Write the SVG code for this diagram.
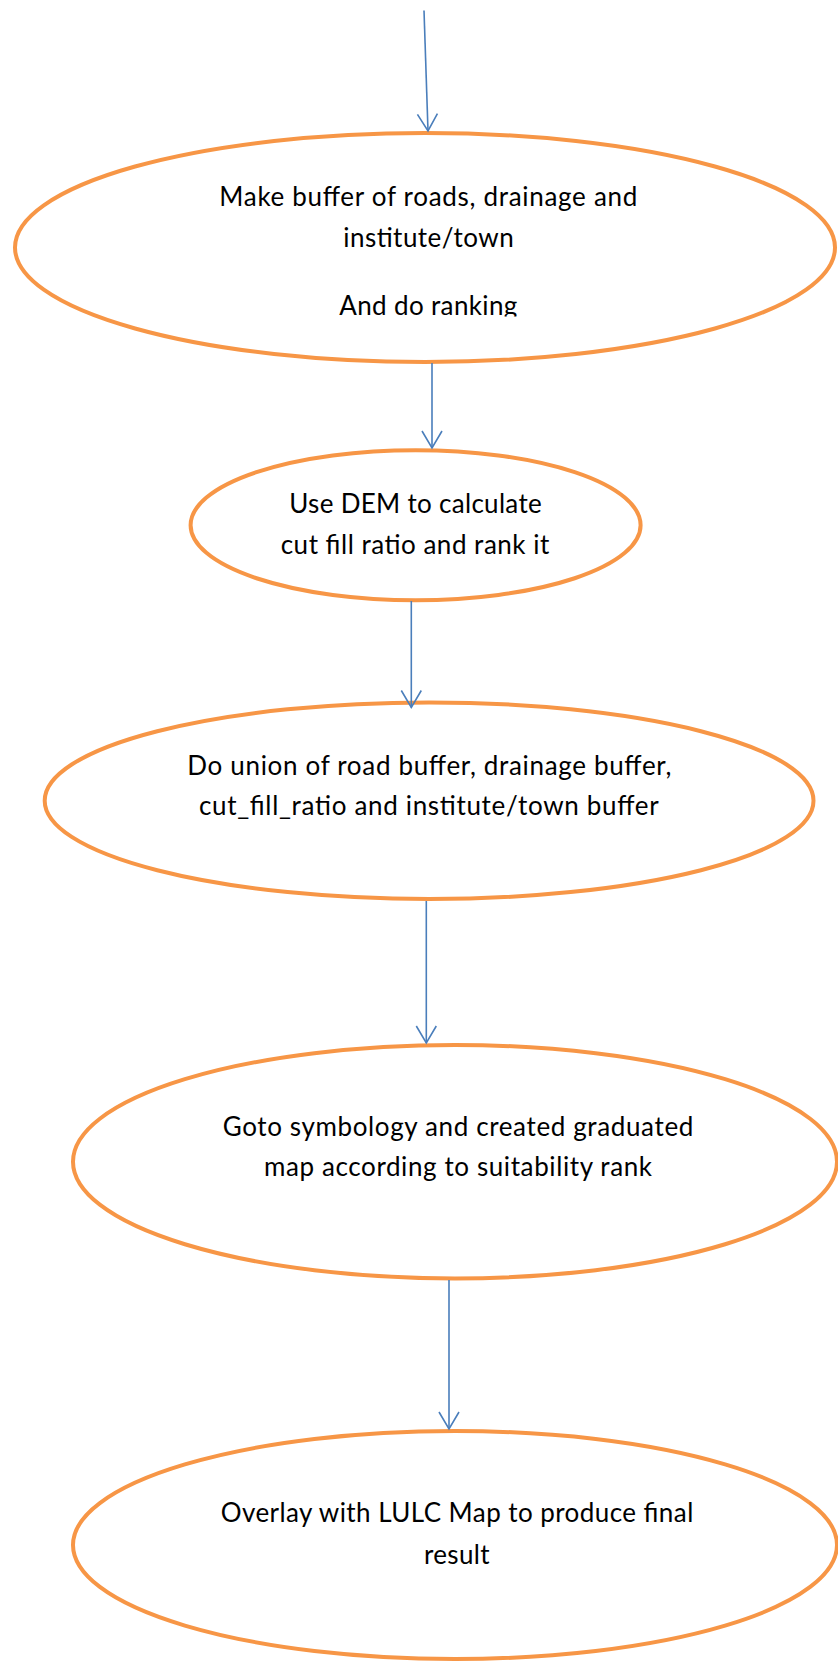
<svg xmlns="http://www.w3.org/2000/svg" width="838" height="1663" viewBox="0 0 838 1663">
  <defs>
    <style>
      .node ellipse { fill: #ffffff; stroke: #F79646; stroke-width: 4; }
      .node text { font-family: Lato, "Liberation Sans", sans-serif; font-size: 26px; fill: #000000; text-anchor: middle; }
      .edge { stroke: #4A7EBB; stroke-width: 1.6; fill: none; marker-end: url(#arrowOpen); }
    </style>
    <marker id="arrowOpen" markerUnits="userSpaceOnUse" orient="auto" refX="0" refY="0" markerWidth="20" markerHeight="24" overflow="visible">
      <path d="M -17 -10 L 0 0 L -17 10" fill="none" stroke="#4A7EBB" stroke-width="1.6" stroke-linejoin="miter"/>
    </marker>
    <!-- the last line of the first step is cut off by its text frame -->
    <clipPath id="firstStepClip">
      <rect x="0" y="0" width="838" height="316.5"/>
    </clipPath>
  </defs>

  <rect x="0" y="0" width="838" height="1663" fill="#ffffff"/>

  <g id="step-buffer" class="node">
    <ellipse cx="425" cy="247.5" rx="410" ry="114.5"/>
    <g clip-path="url(#firstStepClip)">
      <text x="428.3" y="206" textLength="418">Make buffer of roads, drainage and</text>
      <text x="428.5" y="246.7" textLength="170.4">institute/town</text>
      <text x="428.3" y="315" textLength="178">And do ranking</text>
    </g>
  </g>

  <g id="step-cutfill" class="node">
    <ellipse cx="415.6" cy="525.2" rx="225" ry="75"/>
    <text x="415.5" y="512.7" textLength="252.4">Use DEM to calculate</text>
    <text x="415" y="554.3" textLength="268.6">cut fill ratio and rank it</text>
  </g>

  <g id="step-union" class="node">
    <ellipse cx="429.1" cy="800.7" rx="384.4" ry="98.3"/>
    <text x="429.3" y="775" textLength="484">Do union of road buffer, drainage buffer,</text>
    <text x="428.8" y="815" textLength="459.7">cut_fill_ratio and institute/town buffer</text>
  </g>

  <g id="step-symbology" class="node">
    <ellipse cx="455" cy="1161.7" rx="382" ry="116.7"/>
    <text x="458" y="1136" textLength="470.6">Goto symbology and created graduated</text>
    <text x="458" y="1176" textLength="388">map according to suitability rank</text>
  </g>

  <g id="step-overlay" class="node">
    <ellipse cx="455" cy="1545" rx="382" ry="114"/>
    <text x="457" y="1522" textLength="472.6">Overlay with LULC Map to produce final</text>
    <text x="456.8" y="1563.5" textLength="65.7">result</text>
  </g>

  <g id="connectors">
    <line class="edge" x1="424" y1="10.5" x2="428" y2="131"/>
    <line class="edge" x1="432" y1="363" x2="432" y2="448"/>
    <line class="edge" x1="411.3" y1="601" x2="411.3" y2="707.5"/>
    <line class="edge" x1="426.3" y1="901" x2="426.3" y2="1043"/>
    <line class="edge" x1="449" y1="1280" x2="449" y2="1429"/>
  </g>
</svg>
